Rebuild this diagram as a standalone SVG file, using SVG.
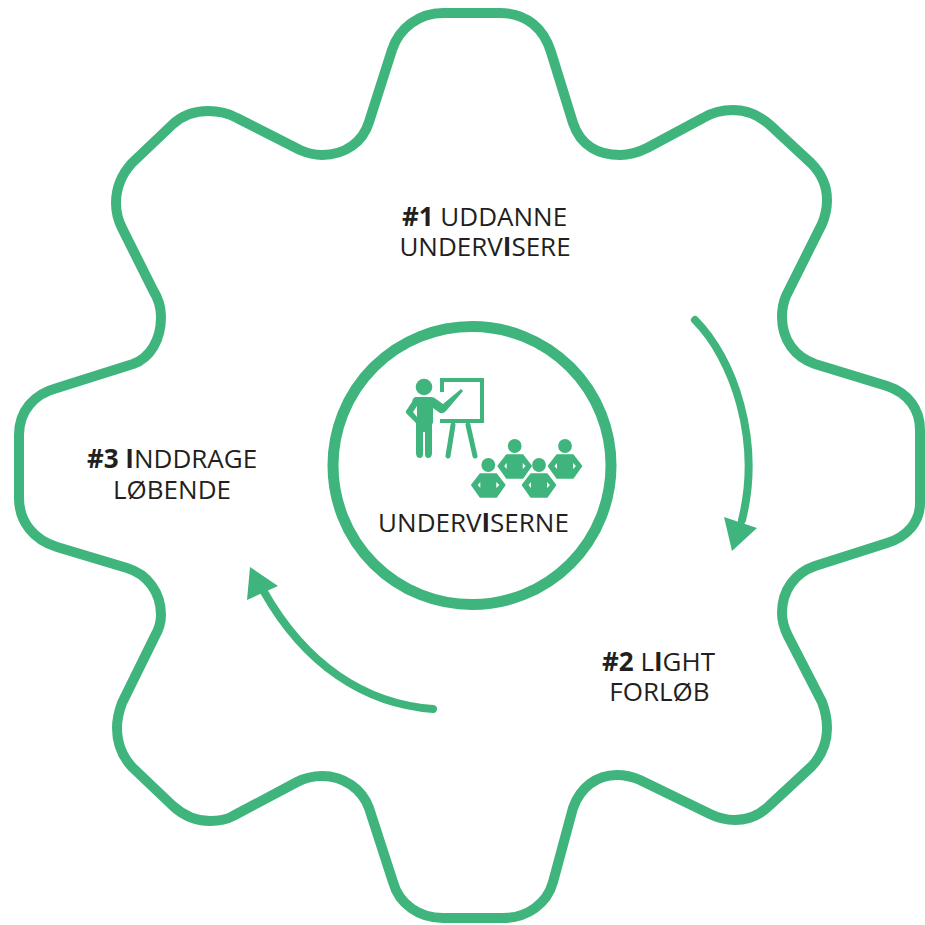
<svg xmlns="http://www.w3.org/2000/svg" width="925" height="925" viewBox="0 0 925 925">
<style>
.ln{fill:none;stroke:#3fb57d;stroke-width:10;stroke-linecap:round;stroke-linejoin:round}
.ar{fill:none;stroke:#3fb57d;stroke-width:8;stroke-linecap:round}
.g{fill:#3fb57d}
.w{fill:#fff}
.t{font-family:"Open Sans","Noto Sans",sans-serif;font-size:26px;fill:#231f20;text-anchor:middle}
.b{font-weight:700}
</style>
<defs>
<g id="person">
<circle cx="0" cy="0" r="6.9"/>
<path d="M-8 9H8L16.5 20L8 32H-8L-16.5 20Z" stroke="#3fb57d" stroke-width="1.5" stroke-linejoin="round"/>
<path class="w" d="M-8 17V23L-10.5 20ZM8 17V23L11 20Z"/>
</g>
</defs>
<rect width="925" height="925" fill="#fff"/>
<g id="gear"><path class="ln" d="M443 13H500C527 13 544 29 551 52L573 123C581 147 600 155 620 155C630 155 639 152 647 148L703 118C713 112 723 110 733 110C748 110 760 116 770 125L811 163C821 173 827 186 827 200C827 209 825 217 822 224L786 296C783 303 782 310 782 317C782 340 795 357 815 364L887 386C908 393 920 409 920 430V503C920 522 907 537 887 543L815 566C795 573 782 590 782 613C782 621 784 628 788 636L822 702C825 710 827 719 827 728C827 743 822 755 812 766L770 805C760 815 748 820 735 820C726 820 718 818 710 814L640 780C633 777 625 775 617 775C596 775 580 788 573 808L553 882C547 904 527 918 503 918H443C419 918 399 904 393 882L369 808C362 789 344 776 322 776C313 776 305 778 297 782L233 816C226 820 218 821 210 821C196 821 184 816 173 806L132 767C122 756 117 743 117 728C117 719 119 711 122 703L155 636C159 629 161 622 161 615C161 592 147 574 127 568L57 547C34 540 19 522 19 498V435C19 411 34 394 57 388L133 364C150 358 161 340 161 317C161 307 158 298 153 290L122 228C118 220 116 212 116 203C116 188 122 174 132 163L173 124C183 115 195 111 208 111C218 111 228 113 237 118L300 150C307 153 314 155 322 155C345 155 363 142 369 122L392 50C399 28 419 13 443 13Z"/></g>
<g id="center">
<circle cx="472" cy="465.5" r="139" fill="none" stroke="#3fb57d" stroke-width="11"/>
<g id="teacher" class="g">
<circle cx="424" cy="387" r="8.3"/>
<path d="M416 397H431Q434 397 436 399L443 404L461 389L463 391L446 411Q443 414 440 413L433 408V423.5L432 423.5V453Q432 458 428 458Q425 458 425 454V432H423V454Q423 458 420 458Q416 458 416 453V423L406 413V411L412 402Q413 397 416 397Z"/>
<path class="w" d="M417 406V417L413 412Z"/>
<path d="M440 378H484V423H440V419H480V382H444V392H440Z"/>
<path class="ln" style="stroke-width:5" d="M453 425L448 456M468 425L475 456"/>
</g>
<g id="students" class="g">
<use id="s1" href="#person" x="488.3" y="465"/>
<use id="s2" href="#person" x="514.7" y="446"/>
<use id="s3" href="#person" x="539" y="465"/>
<use id="s4" href="#person" x="565" y="446"/>
</g>
<text class="t" x="473.5" y="531.5">UNDERV<tspan class="b">I</tspan>SERNE</text>
</g>
<g id="label1"><text class="t" x="484.5" y="226"><tspan class="b">#1</tspan> UDDANNE</text><text class="t" x="485" y="256">UNDERV<tspan class="b">I</tspan>SERE</text></g>
<g id="label2"><text class="t" x="658.5" y="671"><tspan class="b">#2</tspan> L<tspan class="b">I</tspan>GHT</text><text class="t" x="659.5" y="700.5">FORLØB</text></g>
<g id="label3"><text class="t" x="172" y="468"><tspan class="b">#3 I</tspan>NDDRAGE</text><text class="t" x="172" y="499">LØBENDE</text></g>
<g id="connectors">
<path class="ar" d="M695 320C733 358 762 440 742 520"/>
<path class="g" d="M724 517L757 528L732 551Z"/>
<path class="ar" d="M433 709C365 704 305 665 263 590"/>
<path class="g" d="M250 567L278 586L247 600Z"/>
</g>
</svg>
